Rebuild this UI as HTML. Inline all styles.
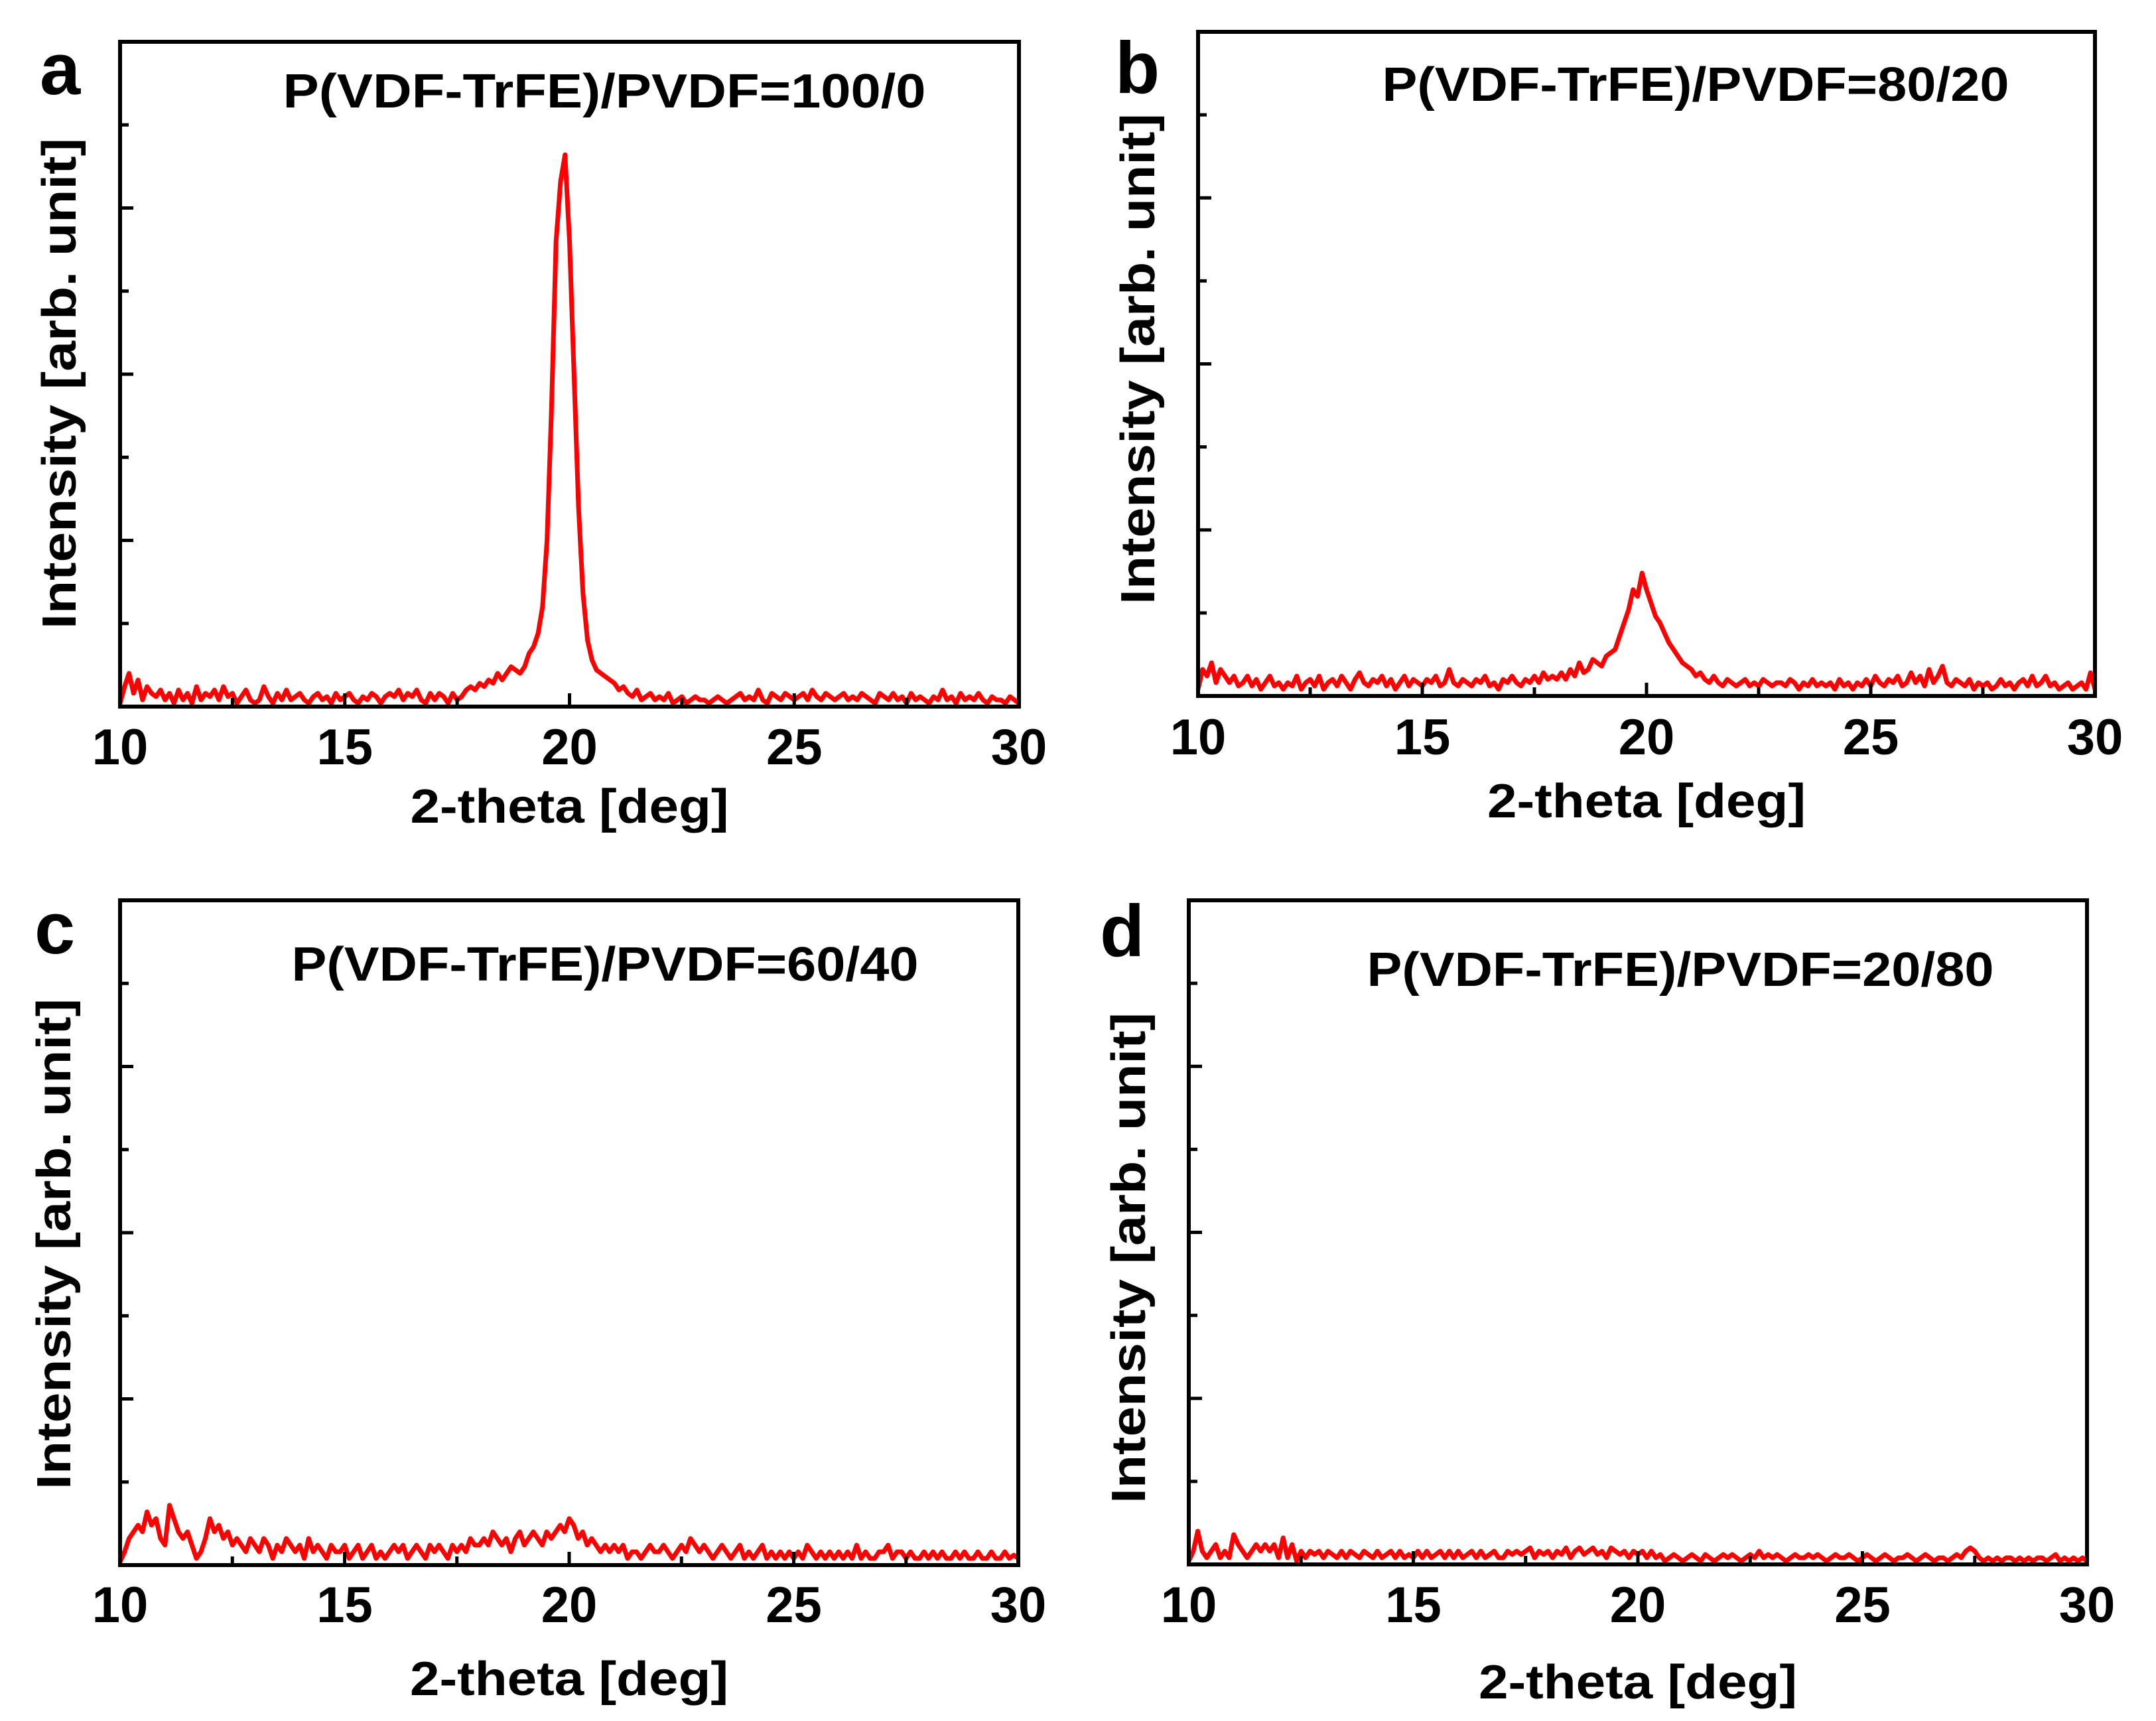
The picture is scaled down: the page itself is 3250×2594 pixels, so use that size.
<!DOCTYPE html>
<html><head><meta charset="utf-8"><style>
html,body{margin:0;padding:0;background:#fff;}
svg{display:block;}
text{font-family:"Liberation Sans",Arial,sans-serif;font-weight:bold;fill:#000;}
</style></head><body>
<svg id="fig" width="3250" height="2594" viewBox="0 0 3250 2594" xmlns="http://www.w3.org/2000/svg"></svg>
<script>
// Shared x range (2-theta, deg), step 0.1 from 10 to 30
const xStart = 10, xStep = 0.1;
const xTickValues = [10, 12.5, 15, 17.5, 20, 22.5, 25, 27.5, 30];
const xTickLabels = ["10", "15", "20", "25", "30"];
const xLabelValues = [10, 15, 20, 25, 30];
const panelLetters = ["a", "b", "c", "d"];
const panelTitles = ["P(VDF-TrFE)/PVDF=100/0", "P(VDF-TrFE)/PVDF=80/20", "P(VDF-TrFE)/PVDF=60/40", "P(VDF-TrFE)/PVDF=20/80"];
// intensity as % of axis height
const seriesA = [
0.5,3,5,2,4,1,3,2,1.5,2.5, 1,2,0.5,2.5,1,2,0.5,3,1,2, 1.5,2.5,1,3,1.5,2,0.5,1.5,2.5,1,
0.5,1,3,1.5,0.5,2,1,2.5,1,1.5, 2,1,0.5,1.5,2,1,1.5,0.5,2,1, 1.5,2,1,0.5,1.5,1,2,1.5,0.5,1.5,
2,1.5,2.5,1,2,1.5,2.5,1,0.5,2, 1,2,1.5,0.5,2,1,1.5,2.5,3,2.5, 3.5,3,4,3.5,5,4,5,6,5.5,5,
6,8,9,11,15,25,45,70,79,83, 70,50,30,17,10,7,5.5,5,4.5,4, 3.5,2.5,3,2,1.5,2.5,1,1.5,2,1,
1.5,1,2,0.5,1,1.5,0.5,1,1.5,1, 1,0.5,1,1.5,1,0.5,1,1.5,2,1, 1.5,1,2.5,1,0.5,2,1.5,1,2,1.5,
1,1.5,2,1,2.5,1.5,1,2,1.5,1, 1.5,2,1,1.5,1,2,1.5,1,0.5,2, 1.5,1,2,1,1.5,0.5,2,1,1.5,1,
0.5,1.5,1,2.5,1,1.5,0.5,2,1,1.5, 1,2,1,0.5,1.5,1,1,0.5,1.5,1, 0.5];
const seriesB = [
1,4,3,5,2,4,3,2,3,1.5, 2,3,1.5,2.5,1,2,3,1.5,2,1, 2,1.5,3,1,2,2.5,1.5,3,1,2,
2.5,1.5,3,2,1,2.5,3.5,2,1.5,2.5, 2,3,1.5,2.5,1,2,3,1.5,2.5,2, 1.5,2.5,2,3,1.5,2,4,2,1.5,2.5,
2,1.5,2.5,2,3,1.5,2,1,2.5,2, 3,2,1.5,2.5,2,3,2,3.5,2.5,3, 2.5,3.5,2.5,4,3,5,3.5,4,5.5,5,
4.5,6,6.5,7,9,11,13,16,15,18.5, 16,14,12,11,9.5,8,7,6,5,4.5, 4,3,3.5,2.5,2,3,2,1.5,2.5,2,
1.5,2,2.5,1.5,2,1.5,2.5,2,1.5,2, 2,1.5,2.5,2,1,2,1.5,2.5,1.5,2, 1.5,2,1,2.5,1.5,2,1,2,1.5,2.5,
1.5,3,2,1.5,2.5,2,3,1.5,2,3.5, 2,3,1.5,4,2,3,4.5,2,1.5,2.5, 2,1.5,2.5,1,2,1.5,2,1,1.5,2.5,
1.5,2,1,2,2.5,1.5,3,1.5,2,3, 1.5,2,1,1.5,2,1,1.5,2,1,3.5, 1];
const seriesC = [
0.5,2,4,5,6,5,8,6,7,4, 3,9,7,5,4,5,3,1,2,4, 7,5,6,4,5,3,4,3,2,4,
3,2,4,3,1,3,2,4,3,2, 3,1,4,2,3,2,1,3,2,2, 3,1,2,3,1,2,3,1,2,1,
2,3,2,3,1,2,3,2,1,3, 2,3,2,1,3,2,3,2,4,3, 3,4,3,5,4,3,4,2,4,5,
3,4,5,4,3,5,4,5,6,5, 7,6,4,5,3,4,3,2,3,2, 3,2,3,1,2,2,1,2,3,2,
2,3,2,1,2,3,2,4,3,2, 3,2,1,2,3,2,1,2,3,1, 2,1,2,3,1,2,1,2,1,2,
1,2,1,3,2,1,2,1,2,1, 2,1,2,1,3,1,2,1,1,2, 2,3,1,2,2,1,2,1,1,2,
1,2,1,2,1,1,2,1,2,1, 1,2,1,1,2,1,1,2,1,1.5, 1];
const seriesD = [
0.5,2,5,2,1,2,3,1,2,1, 4.5,3,2,1,2,3,2,3,2,3, 1,4,1,3,0.5,2,1,2,1.5,2,
1,2,1.5,1,2,1,2,1.5,1,2, 1.5,1,2,1,1.5,2,1,2,1,1.5, 1,2,1,2,1,1.5,2,1,2,1,
2,1,1.5,2,1,2,1,1.5,2,1, 1,2,1.5,2,1.5,2,2.5,1,2,1.5, 2,1,2,1.5,2.5,1,2,2.5,1.5,2,
2.5,1.5,2,1,2.5,2,1.5,2,1,2, 1.5,2,1,2,1,1.5,0.5,1,1.5,1, 0.5,1,1.5,1,0.5,1.5,1,0.5,1,1.5,
1,1.5,1,0.5,1,1.5,1,2,1,1.5, 1,1.5,1,0.5,1,1.5,1,1,1.5,1, 1.5,1,0.5,1,1.5,1,1,1.5,1,0.5,
1,1.5,1,0.5,1,1.5,1,0.5,1,1, 1.5,1,0.5,1,1.5,1,0.5,1,1,0.5, 1,1.5,1,2,2.5,2,1,0.5,1,0.5,
1,0.5,1,1,0.5,1,0.5,1,0.5,1, 1,0.5,1,1.5,0.5,1,0.5,1,0.5,1, 0.5];

const allSeries = [seriesA, seriesB, seriesC, seriesD];
const frames = [
 {l:181,r:1536,t:63,b:1065, tx:911,ty:162, lx:60,ly:142, yx:88,yc:578, xtY:1152, xtitY:1240},
 {l:1806,r:3158,t:48,b:1049, tx:2556,ty:152, lx:1681,ly:140, yx:1714,yc:541, xtY:1137, xtitY:1232},
 {l:181,r:1535,t:1357,b:2359, tx:912,ty:1478, lx:52,ly:1437, yx:80,yc:1875, xtY:2445, xtitY:2555},
 {l:1792,r:3146,t:1357,b:2358, tx:2533,ty:1486, lx:1658,ly:1441, yx:1700,yc:1896, xtY:2445, xtitY:2560}
];
const NS = "http://www.w3.org/2000/svg";
const svg = document.getElementById("fig");
function mk(tag, attrs, parent){ const e=document.createElementNS(NS,tag); for(const k in attrs) e.setAttribute(k,attrs[k]); (parent||svg).appendChild(e); return e; }

frames.forEach((f,i)=>{
  const g = mk("g",{});
  
  
  const xs = v => f.l + (v-10)/20*(f.r-f.l);
  const ys = v => f.b - v/100*(f.b-f.t);
  const s = allSeries[i];
  let d = "";
  s.forEach((v,k)=>{ d += (k?"L":"M") + xs(xStart+k*xStep).toFixed(1) + " " + ys(v).toFixed(1); });
  const line = mk("path",{d:d,fill:"none",stroke:"#ff0000","stroke-width":7,"stroke-linejoin":"round"},g);
  
  
  const fr = mk("rect",{x:f.l,y:f.t,width:f.r-f.l,height:f.b-f.t,fill:"none",stroke:"#000","stroke-width":6},g);
  
  
  for(let k=1;k<8;k++){
    const y = f.b - k/8*(f.b-f.t);
    const len = (k%2===0)?20:13;
    const t = mk("line",{x1:f.l,x2:f.l+len,y1:y,y2:y,stroke:"#000","stroke-width":5},g);
    
    
  }
  xTickValues.forEach((v,k)=>{
    const x = xs(v); const len = (k%2===0)?20:13;
    const t = mk("line",{x1:x,x2:x,y1:f.b,y2:f.b-len,stroke:"#000","stroke-width":5},g);
    
    
  });
  xLabelValues.forEach((v,k)=>{
    const t = mk("text",{x:xs(v),y:f.xtY,"font-size":76,"text-anchor":"middle"},g);
    t.textContent = xTickLabels[k];
    
    
  });
  const xt = mk("text",{x:(f.l+f.r)/2,y:f.xtitY,"font-size":72,"text-anchor":"middle",textLength:480,lengthAdjust:"spacingAndGlyphs"},g);
  xt.textContent = "2-theta [deg]";
  
  
  const yt = mk("text",{x:0,y:0,"font-size":72,"text-anchor":"middle",textLength:740,lengthAdjust:"spacingAndGlyphs",transform:`translate(${f.yx+26},${f.yc}) rotate(-90)`},g);
  yt.textContent = "Intensity [arb. unit]";
  
  
  const tt = mk("text",{x:f.tx,y:f.ty,"font-size":72,"text-anchor":"middle",textLength:(i===0?969:945),lengthAdjust:"spacingAndGlyphs"},g);
  tt.textContent = panelTitles[i];
  
  
  const pl = mk("text",{x:f.lx,y:f.ly,"font-size":110},g);
  pl.textContent = panelLetters[i];
  
  
});
</script>
</body></html>
